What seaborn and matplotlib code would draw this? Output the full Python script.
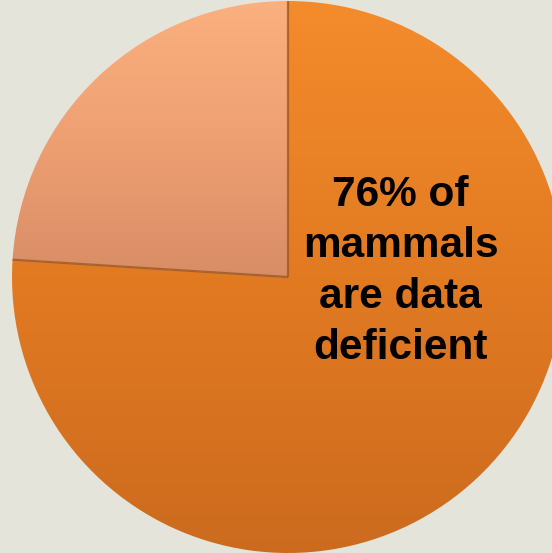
import numpy as np
import matplotlib
matplotlib.use("Agg")
import matplotlib.pyplot as plt
import seaborn as sns
from matplotlib.colors import LinearSegmentedColormap

sns.set_style("white")
plt.rcParams['font.family'] = ['Liberation Sans', 'DejaVu Sans']

# Data
categories = ["Not data deficient", "Data deficient"]
values = [24, 76]
label_text = "76% of\nmammals\nare data\ndeficient"

# Gradient colours per slice (top -> bottom)
grad_light = ["#fbb07f", "#eea072", "#d98d66"]
grad_orange = ["#f48c2c", "#e27a22", "#cc6b1e"]
bg = "#e4e4da"

fig = plt.figure(figsize=(5.52, 5.53), dpi=100, facecolor=bg)
ax = fig.add_axes([0, 0, 1, 1])
ax.set_facecolor(bg)

wedges, _ = ax.pie(values, startangle=90, counterclock=True, radius=1.0,
                   center=(0, 0), colors=["none", "none"],
                   wedgeprops=dict(edgecolor="none", linewidth=0))

xmin, xmax = -288 / 276, (552 - 288) / 276
ymin, ymax = -(553 - 277) / 276, 277 / 276

grad = np.linspace(1, 0, 256).reshape(-1, 1)
for w, cols in zip(wedges, [grad_light, grad_orange]):
    ext = w.get_path().get_extents()
    cmap = LinearSegmentedColormap.from_list("g", cols[::-1])
    im = ax.imshow(grad, cmap=cmap, extent=[-1, 1, ext.y0, ext.y1],
                   aspect="auto", origin="upper", zorder=1)
    im.set_clip_path(w)

# separators along the slice boundaries
for w in wedges[:1]:
    for th in (w.theta1, w.theta2):
        t = np.deg2rad(th)
        ax.plot([0, np.cos(t)], [0, np.sin(t)], color="#9a5a2a", lw=1.6,
                alpha=0.8, zorder=3, solid_capstyle="butt")

ax.text(0.408, 0.02, label_text, ha="center", va="center", fontsize=30.5,
        fontweight="bold", color="black", linespacing=1.36, zorder=4)

ax.set_xlim(xmin, xmax)
ax.set_ylim(ymin, ymax)
ax.set_aspect("auto")
ax.axis("off")

fig.savefig("out.png", dpi=100, facecolor=bg)
